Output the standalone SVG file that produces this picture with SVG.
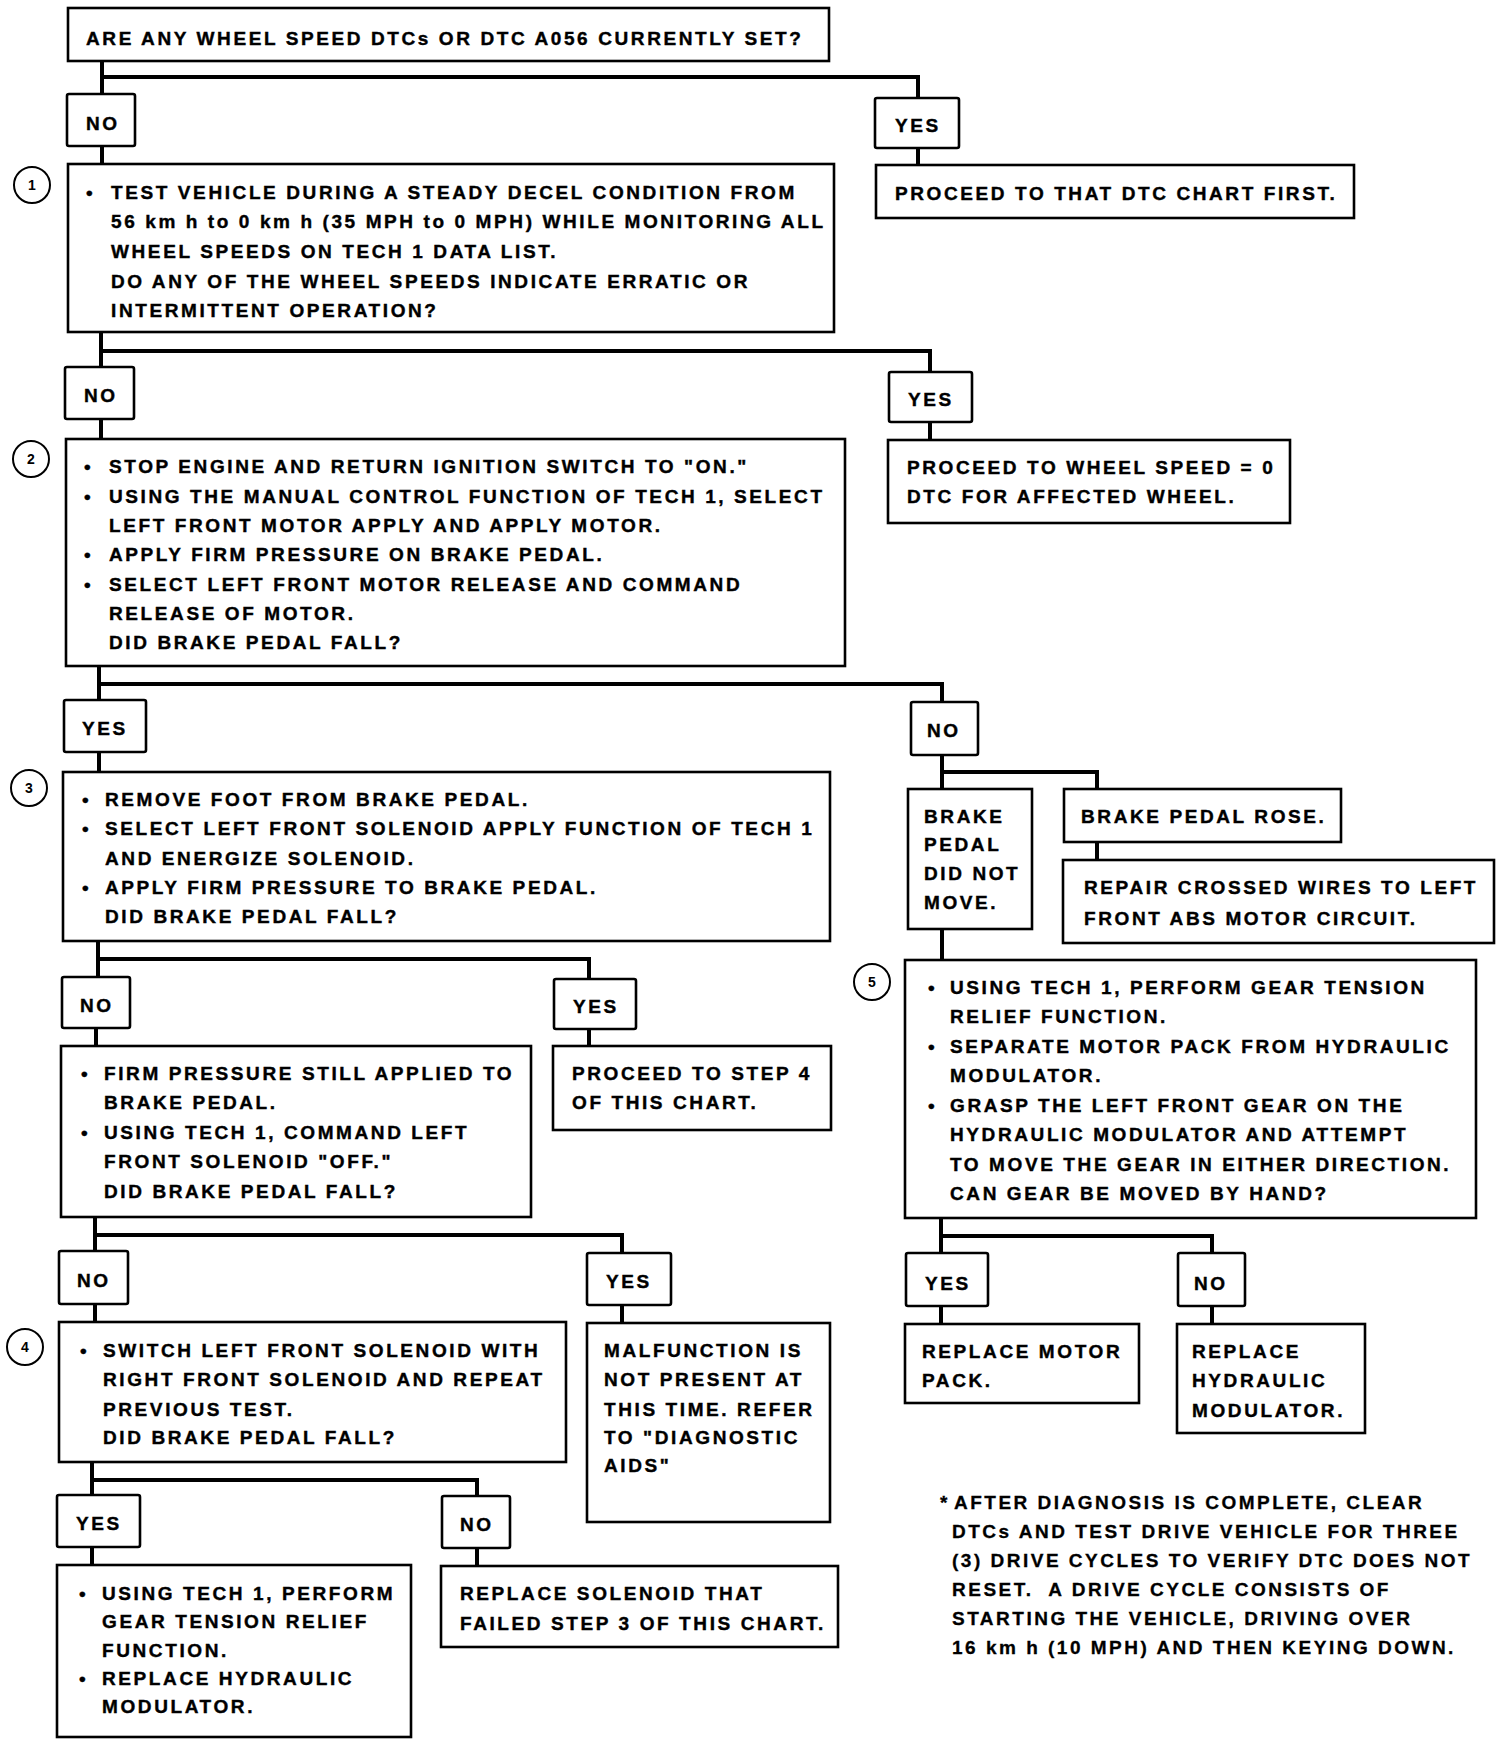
<svg xmlns="http://www.w3.org/2000/svg" width="1504" height="1746" viewBox="0 0 1504 1746">
<style>
.box{fill:#fff;stroke:#000;stroke-width:2.6}
.lbl{fill:#fff;stroke:#000;stroke-width:2.6}
.t{font-family:"Liberation Sans",Arial,sans-serif;font-weight:bold;font-size:19px;letter-spacing:2.6px;fill:#000;stroke:#000;stroke-width:0.4}
.fn{font-family:"Liberation Sans",Arial,sans-serif;font-weight:bold;font-size:19px;letter-spacing:2.5px;fill:#000;stroke:#000;stroke-width:0.3}
.cn{fill:none;stroke:#000;stroke-width:4}
.circ{fill:#fff;stroke:#000;stroke-width:2}
.num{font-family:"Liberation Sans",Arial,sans-serif;font-weight:bold;font-size:14px;fill:#000;text-anchor:middle}
</style>
<rect width="1504" height="1746" fill="#fff"/>
<g id="connectors">
<path class="cn" d="M102,61 V94 M102,77 H918 V98"/>
<path class="cn" d="M102,146 V164"/>
<path class="cn" d="M918,148 V165"/>
<path class="cn" d="M101,332 V367 M101,351 H930 V372"/>
<path class="cn" d="M101,419 V439"/>
<path class="cn" d="M930,422 V440"/>
<path class="cn" d="M99,666 V700 M99,684 H942 V702"/>
<path class="cn" d="M99,752 V772"/>
<path class="cn" d="M942,755 V789 M942,772 H1097 V789"/>
<path class="cn" d="M1097,842 V860"/>
<path class="cn" d="M942,929 V960"/>
<path class="cn" d="M98,941 V977 M98,959 H589 V979"/>
<path class="cn" d="M96,1028 V1046"/>
<path class="cn" d="M589,1029 V1046"/>
<path class="cn" d="M95,1217 V1251 M95,1235 H622 V1253"/>
<path class="cn" d="M95,1304 V1322"/>
<path class="cn" d="M622,1305 V1323"/>
<path class="cn" d="M92,1462 V1495 M92,1480 H477 V1496"/>
<path class="cn" d="M92,1547 V1565"/>
<path class="cn" d="M477,1548 V1566"/>
<path class="cn" d="M941,1218 V1253 M941,1236 H1212 V1253"/>
<path class="cn" d="M941,1306 V1324"/>
<path class="cn" d="M1212,1306 V1324"/>
</g>
<g id="q0">
<rect class="box" x="68" y="8" width="761" height="53"/>
<text class="t" x="86" y="45">ARE ANY WHEEL SPEED DTCs OR DTC A056 CURRENTLY SET?</text>
</g>
<g id="no1"><rect class="lbl" x="67" y="94" width="68" height="52" rx="2"/><text class="t" x="86" y="130">NO</text></g>
<g id="yes1"><rect class="lbl" x="875" y="98" width="84" height="50" rx="2"/><text class="t" x="895" y="132">YES</text></g>
<g id="proceed-dtc"><rect class="box" x="876" y="165" width="478" height="53"/><text class="t" x="895" y="200">PROCEED TO THAT DTC CHART FIRST.</text></g>
<g id="step1">
<circle class="circ" cx="32" cy="185" r="18"/><text class="num" x="32" y="190">1</text>
<rect class="box" x="68" y="164" width="766" height="168"/>
<text class="t" x="86" y="199">•</text>
<text class="t" x="111" y="199">TEST VEHICLE DURING A STEADY DECEL CONDITION FROM</text>
<text class="t" x="111" y="228">56 km h to 0 km h (35 MPH to 0 MPH) WHILE MONITORING ALL</text>
<text class="t" x="111" y="258">WHEEL SPEEDS ON TECH 1 DATA LIST.</text>
<text class="t" x="111" y="288">DO ANY OF THE WHEEL SPEEDS INDICATE ERRATIC OR</text>
<text class="t" x="111" y="317">INTERMITTENT OPERATION?</text>
</g>
<g id="no2"><rect class="lbl" x="65" y="367" width="69" height="52" rx="2"/><text class="t" x="84" y="402">NO</text></g>
<g id="yes2"><rect class="lbl" x="889" y="372" width="83" height="50" rx="2"/><text class="t" x="908" y="406">YES</text></g>
<g id="proceed-wheel"><rect class="box" x="888" y="440" width="402" height="83"/>
<text class="t" x="907" y="474">PROCEED TO WHEEL SPEED = 0</text>
<text class="t" x="907" y="503">DTC FOR AFFECTED WHEEL.</text></g>
<g id="step2">
<circle class="circ" cx="31" cy="459" r="18"/><text class="num" x="31" y="464">2</text>
<rect class="box" x="66" y="439" width="779" height="227"/>
<text class="t" x="84" y="473">•</text>
<text class="t" x="109" y="473">STOP ENGINE AND RETURN IGNITION SWITCH TO "ON."</text>
<text class="t" x="84" y="503">•</text>
<text class="t" x="109" y="503">USING THE MANUAL CONTROL FUNCTION OF TECH 1, SELECT</text>
<text class="t" x="109" y="532">LEFT FRONT MOTOR APPLY AND APPLY MOTOR.</text>
<text class="t" x="84" y="561">•</text>
<text class="t" x="109" y="561">APPLY FIRM PRESSURE ON BRAKE PEDAL.</text>
<text class="t" x="84" y="591">•</text>
<text class="t" x="109" y="591">SELECT LEFT FRONT MOTOR RELEASE AND COMMAND</text>
<text class="t" x="109" y="620">RELEASE OF MOTOR.</text>
<text class="t" x="109" y="649">DID BRAKE PEDAL FALL?</text>
</g>
<g id="yes3"><rect class="lbl" x="64" y="700" width="82" height="52" rx="2"/><text class="t" x="82" y="735">YES</text></g>
<g id="no3"><rect class="lbl" x="911" y="702" width="67" height="53" rx="2"/><text class="t" x="927" y="737">NO</text></g>
<g id="step3">
<circle class="circ" cx="29" cy="788" r="18"/><text class="num" x="29" y="793">3</text>
<rect class="box" x="63" y="772" width="767" height="169"/>
<text class="t" x="82" y="806">•</text>
<text class="t" x="105" y="806">REMOVE FOOT FROM BRAKE PEDAL.</text>
<text class="t" x="82" y="835">•</text>
<text class="t" x="105" y="835">SELECT LEFT FRONT SOLENOID APPLY FUNCTION OF TECH 1</text>
<text class="t" x="105" y="865">AND ENERGIZE SOLENOID.</text>
<text class="t" x="82" y="894">•</text>
<text class="t" x="105" y="894">APPLY FIRM PRESSURE TO BRAKE PEDAL.</text>
<text class="t" x="105" y="923">DID BRAKE PEDAL FALL?</text>
</g>
<g id="not-move"><rect class="box" x="908" y="789" width="124" height="140"/>
<text class="t" x="924" y="823">BRAKE</text>
<text class="t" x="924" y="851">PEDAL</text>
<text class="t" x="924" y="880">DID NOT</text>
<text class="t" x="924" y="909">MOVE.</text></g>
<g id="rose"><rect class="box" x="1064" y="789" width="277" height="53"/><text class="t" x="1081" y="823">BRAKE PEDAL ROSE.</text></g>
<g id="repair"><rect class="box" x="1063" y="860" width="431" height="83"/>
<text class="t" x="1084" y="894">REPAIR CROSSED WIRES TO LEFT</text>
<text class="t" x="1084" y="925">FRONT ABS MOTOR CIRCUIT.</text></g>
<g id="step5">
<circle class="circ" cx="872" cy="982" r="18"/><text class="num" x="872" y="987">5</text>
<rect class="box" x="905" y="960" width="571" height="258"/>
<text class="t" x="928" y="994">•</text>
<text class="t" x="950" y="994">USING TECH 1, PERFORM GEAR TENSION</text>
<text class="t" x="950" y="1023">RELIEF FUNCTION.</text>
<text class="t" x="928" y="1053">•</text>
<text class="t" x="950" y="1053">SEPARATE MOTOR PACK FROM HYDRAULIC</text>
<text class="t" x="950" y="1082">MODULATOR.</text>
<text class="t" x="928" y="1112">•</text>
<text class="t" x="950" y="1112">GRASP THE LEFT FRONT GEAR ON THE</text>
<text class="t" x="950" y="1141">HYDRAULIC MODULATOR AND ATTEMPT</text>
<text class="t" x="950" y="1171">TO MOVE THE GEAR IN EITHER DIRECTION.</text>
<text class="t" x="950" y="1200">CAN GEAR BE MOVED BY HAND?</text>
</g>
<g id="yes5"><rect class="lbl" x="906" y="1253" width="82" height="53" rx="2"/><text class="t" x="925" y="1290">YES</text></g>
<g id="no5"><rect class="lbl" x="1178" y="1253" width="67" height="53" rx="2"/><text class="t" x="1194" y="1290">NO</text></g>
<g id="motor-pack"><rect class="box" x="905" y="1324" width="234" height="79"/>
<text class="t" x="922" y="1358">REPLACE MOTOR</text>
<text class="t" x="922" y="1387">PACK.</text></g>
<g id="hyd-mod"><rect class="box" x="1177" y="1324" width="188" height="109"/>
<text class="t" x="1192" y="1358">REPLACE</text>
<text class="t" x="1192" y="1387">HYDRAULIC</text>
<text class="t" x="1192" y="1417">MODULATOR.</text></g>
<g id="no4"><rect class="lbl" x="62" y="977" width="68" height="51" rx="2"/><text class="t" x="80" y="1012">NO</text></g>
<g id="yes4"><rect class="lbl" x="554" y="979" width="82" height="50" rx="2"/><text class="t" x="573" y="1013">YES</text></g>
<g id="firm"><rect class="box" x="61" y="1046" width="470" height="171"/>
<text class="t" x="81" y="1080">•</text>
<text class="t" x="104" y="1080">FIRM PRESSURE STILL APPLIED TO</text>
<text class="t" x="104" y="1109">BRAKE PEDAL.</text>
<text class="t" x="81" y="1139">•</text>
<text class="t" x="104" y="1139">USING TECH 1, COMMAND LEFT</text>
<text class="t" x="104" y="1168">FRONT SOLENOID "OFF."</text>
<text class="t" x="104" y="1198">DID BRAKE PEDAL FALL?</text></g>
<g id="step4-go"><rect class="box" x="553" y="1046" width="278" height="84"/>
<text class="t" x="572" y="1080">PROCEED TO STEP 4</text>
<text class="t" x="572" y="1109">OF THIS CHART.</text></g>
<g id="no6"><rect class="lbl" x="59" y="1251" width="69" height="53" rx="2"/><text class="t" x="77" y="1287">NO</text></g>
<g id="yes6"><rect class="lbl" x="587" y="1253" width="84" height="52" rx="2"/><text class="t" x="606" y="1288">YES</text></g>
<g id="step4">
<circle class="circ" cx="25" cy="1347" r="18"/><text class="num" x="25" y="1352">4</text>
<rect class="box" x="59" y="1322" width="507" height="140"/>
<text class="t" x="80" y="1357">•</text>
<text class="t" x="103" y="1357">SWITCH LEFT FRONT SOLENOID WITH</text>
<text class="t" x="103" y="1386">RIGHT FRONT SOLENOID AND REPEAT</text>
<text class="t" x="103" y="1416">PREVIOUS TEST.</text>
<text class="t" x="103" y="1444">DID BRAKE PEDAL FALL?</text>
</g>
<g id="malfunction"><rect class="box" x="587" y="1323" width="243" height="199"/>
<text class="t" x="604" y="1357">MALFUNCTION IS</text>
<text class="t" x="604" y="1386">NOT PRESENT AT</text>
<text class="t" x="604" y="1416">THIS TIME. REFER</text>
<text class="t" x="604" y="1444">TO "DIAGNOSTIC</text>
<text class="t" x="604" y="1472">AIDS"</text></g>
<g id="yes7"><rect class="lbl" x="57" y="1495" width="83" height="52" rx="2"/><text class="t" x="76" y="1530">YES</text></g>
<g id="no7"><rect class="lbl" x="442" y="1496" width="68" height="52" rx="2"/><text class="t" x="460" y="1531">NO</text></g>
<g id="relief"><rect class="box" x="57" y="1565" width="354" height="172"/>
<text class="t" x="79" y="1600">•</text>
<text class="t" x="102" y="1600">USING TECH 1, PERFORM</text>
<text class="t" x="102" y="1628">GEAR TENSION RELIEF</text>
<text class="t" x="102" y="1657">FUNCTION.</text>
<text class="t" x="79" y="1685">•</text>
<text class="t" x="102" y="1685">REPLACE HYDRAULIC</text>
<text class="t" x="102" y="1713">MODULATOR.</text></g>
<g id="replace-sol"><rect class="box" x="441" y="1566" width="397" height="81"/>
<text class="t" x="460" y="1600">REPLACE SOLENOID THAT</text>
<text class="t" x="460" y="1630">FAILED STEP 3 OF THIS CHART.</text></g>
<g id="footnote">
<text class="fn" x="940" y="1509">*</text>
<text class="fn" x="954" y="1509">AFTER DIAGNOSIS IS COMPLETE, CLEAR</text>
<text class="fn" x="952" y="1538">DTCs AND TEST DRIVE VEHICLE FOR THREE</text>
<text class="fn" x="952" y="1567">(3) DRIVE CYCLES TO VERIFY DTC DOES NOT</text>
<text class="fn" x="952" y="1596">RESET.&#160; A DRIVE CYCLE CONSISTS OF</text>
<text class="fn" x="952" y="1625">STARTING THE VEHICLE, DRIVING OVER</text>
<text class="fn" x="952" y="1654">16 km h (10 MPH) AND THEN KEYING DOWN.</text>
</g>
</svg>
